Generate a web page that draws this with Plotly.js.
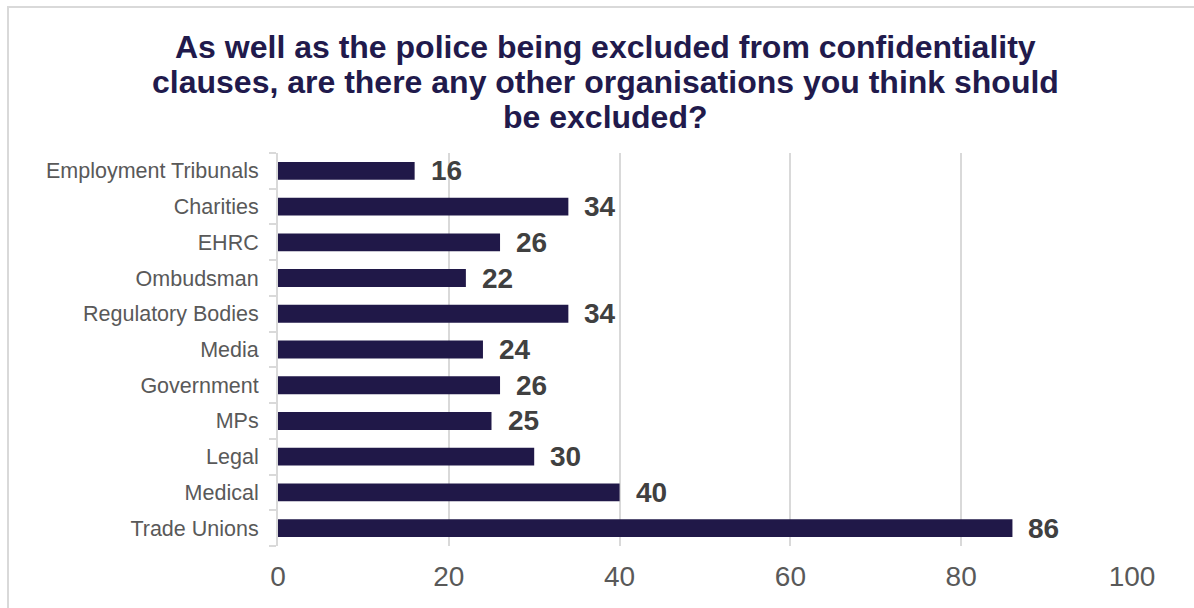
<!DOCTYPE html>
<html>
<head>
<meta charset="utf-8">
<script src="https://cdn.plot.ly/plotly-3.0.1.min.js"></script>
<style>
  html, body { margin: 0; padding: 0; background: #fff; }
  #wrap { position: relative; width: 1194px; height: 608px; overflow: hidden; }
  #chart { width: 1194px; height: 608px; }
  #frame { position: absolute; left: 7px; top: 6px; width: 1200px; height: 620px;
           border: 2px solid #d9d9d9; pointer-events: none; box-sizing: border-box; }
</style>
</head>
<body>
<div id="wrap">
  <div id="chart"></div>
  <div id="frame"></div>
</div>
<script>
const categories = ["Employment Tribunals", "Charities", "EHRC", "Ombudsman", "Regulatory Bodies",
                    "Media", "Government", "MPs", "Legal", "Medical", "Trade Unions"];
const values = [16, 34, 26, 22, 34, 24, 26, 25, 30, 40, 86];
const xTicks = [0, 20, 40, 60, 80, 100];
const titleLines = [
  "As well as the police being excluded from confidentiality",
  "clauses, are there any other organisations you think should",
  "be excluded?"
];

const FONT = "Liberation Sans, Arial, sans-serif";
const M = { l: 278, r: 62, t: 153, b: 62 };
const W = 1194, H = 608;
const plotW = W - M.l - M.r, plotH = H - M.t - M.b;

const trace = {
  type: "bar",
  orientation: "h",
  x: values,
  y: categories,
  marker: { color: "#201848" },
  hoverinfo: "x+y"
};

const annotations = values.map((v, i) => ({
  x: v, y: categories[i], xref: "x", yref: "y",
  text: "<b>" + v + "</b>", showarrow: false, xanchor: "left", xshift: 14,
  font: { family: FONT, size: 28, color: "#404040" }
}));

// title lines as annotations (tighter line spacing than Plotly's title)
const titleCenters = [47, 82, 117];
titleLines.forEach((t, i) => {
  annotations.push({
    xref: "paper", yref: "paper",
    x: (605 - M.l) / plotW,
    y: 1 + (M.t - titleCenters[i]) / plotH,
    xanchor: "center", yanchor: "middle",
    text: "<b>" + t + "</b>", showarrow: false,
    font: { family: FONT, size: 32, color: "#211a4c" }
  });
});

const layout = {
  width: W, height: H,
  margin: M,
  paper_bgcolor: "rgba(0,0,0,0)",
  plot_bgcolor: "rgba(0,0,0,0)",
  bargap: 0.5,
  showlegend: false,
  xaxis: {
    range: [0, 100],
    tickvals: xTicks,
    ticktext: xTicks.map(String),
    showgrid: true, gridcolor: "#d9d9d9", gridwidth: 2,
    zeroline: false, showline: false, ticks: "",
    ticklabelstandoff: 11,
    tickfont: { family: FONT, size: 28, color: "#595959" },
    fixedrange: true
  },
  yaxis: {
    type: "category",
    categoryorder: "array",
    categoryarray: categories.slice().reverse(),
    autorange: true,
    showline: true, linecolor: "#d9d9d9", linewidth: 2,
    ticks: "outside", tickson: "boundaries", ticklen: 7, tickcolor: "#d9d9d9", tickwidth: 2,
    ticklabelstandoff: 13,
    showgrid: false, zeroline: false,
    tickfont: { family: FONT, size: 21.5, color: "#595959" },
    fixedrange: true
  },
  annotations: annotations
};

Plotly.newPlot("chart", [trace], layout, { displayModeBar: false, staticPlot: true });
</script>
</body>
</html>
